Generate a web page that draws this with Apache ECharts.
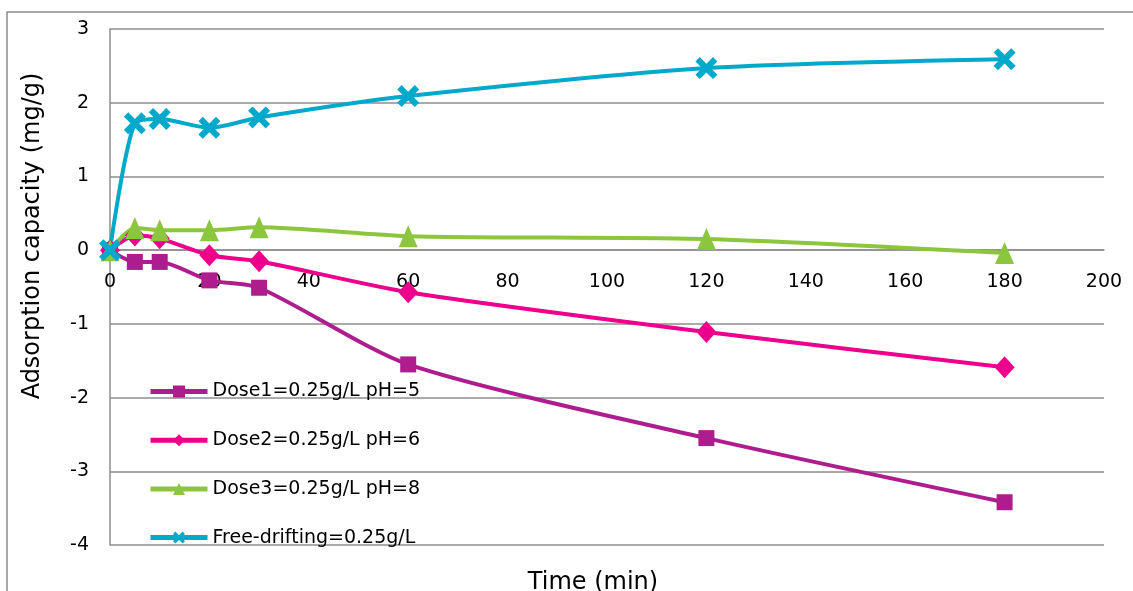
<!DOCTYPE html>
<html>
<head>
<meta charset="utf-8">
<script src="https://cdn.jsdelivr.net/npm/echarts@6/dist/echarts.min.js"></script>
<style>
html,body{margin:0;padding:0;background:#fff;}
#chart{width:1133px;height:591px;}
</style>
</head>
<body>
<div id="chart"></div>
<script>
const times = [0, 5, 10, 20, 30, 60, 120, 180];
const dose1 = [0, -0.16, -0.16, -0.41, -0.51, -1.55, -2.55, -3.42];
const dose2 = [0, 0.20, 0.16, -0.07, -0.15, -0.57, -1.11, -1.59];
const dose3 = [0, 0.30, 0.27, 0.27, 0.31, 0.19, 0.15, -0.04];
const freeDrift = [0, 1.72, 1.78, 1.66, 1.80, 2.09, 2.47, 2.59];
const seriesNames = ['Dose1=0.25g/L pH=5', 'Dose2=0.25g/L pH=6', 'Dose3=0.25g/L pH=8', 'Free-drifting=0.25g/L'];
const xTitle = 'Time (min)';
const yTitle = 'Adsorption capacity (mg/g)';

const FONT = 'DejaVu Sans, Verdana, sans-serif';
const GRID_C = '#8e8e8e';
const X_SYMBOL = 'path://M0,2 L2,0 L5,3 L8,0 L10,2 L7,5 L10,8 L8,10 L5,7 L2,10 L0,8 L3,5 Z';

function pairs(vals){ return times.map((t,i)=>[t, vals[i]]); }

function mk(name, vals, color, symbol, size){
  return {
    name: name, type: 'line', data: pairs(vals),
    smooth: 0.25,
    symbol: symbol, symbolSize: size,
    showAllSymbol: true,
    lineStyle: {color: color, width: 4},
    itemStyle: {color: color, borderWidth: 0},
    emphasis: {disabled: true}
  };
}

const chart = echarts.init(document.getElementById('chart'), null, {renderer: 'canvas'});
chart.setOption({
  animation: false,
  backgroundColor: '#fff',
  grid: {left: 110, right: 29, top: 29, bottom: 46, containLabel: false},
  xAxis: {
    type: 'value', min: 0, max: 200, interval: 20,
    offset: -295,
    axisLine: {show: true, onZero: false, lineStyle: {color: GRID_C, width: 1.5}},
    axisTick: {show: false},
    splitLine: {show: false},
    axisLabel: {color: '#000', fontFamily: FONT, fontSize: 19, margin: 23}
  },
  yAxis: {
    type: 'value', min: -4, max: 3, interval: 1,
    axisLine: {show: true, lineStyle: {color: GRID_C, width: 1.5}},
    axisTick: {show: false},
    splitLine: {show: true, lineStyle: {color: GRID_C, width: 1.5}},
    axisLabel: {color: '#000', fontFamily: FONT, fontSize: 19, margin: 21}
  },
  legend: {
    orient: 'vertical', left: 143, top: 377,
    itemWidth: 57, itemHeight: 15, itemGap: 29.7,
    lineStyle: {width: 5},
    textStyle: {color: '#000', fontFamily: FONT, fontSize: 19},
    data: seriesNames
  },
  graphic: [
    {type: 'rect', shape: {x: 7, y: 12, width: 1300, height: 800}, style: {fill: 'none', stroke: '#8a8a8a', lineWidth: 1.5}, silent: true, z: -1},
    {type: 'text', x: 33, y: 236, rotation: Math.PI/2, style: {text: yTitle, fontFamily: FONT, fontSize: 24, fill: '#000', textAlign: 'center', textVerticalAlign: 'middle'}},
    {type: 'text', x: 593, y: 583, style: {text: xTitle, fontFamily: FONT, fontSize: 24, fill: '#000', textAlign: 'center', textVerticalAlign: 'middle'}}
  ],
  series: [
    mk(seriesNames[0], dose1, '#AE1D8E', 'rect', 16),
    mk(seriesNames[1], dose2, '#EC008C', 'diamond', [20, 22]),
    mk(seriesNames[2], dose3, '#8CC63F', 'triangle', [19, 22]),
    mk(seriesNames[3], freeDrift, '#03A9CA', X_SYMBOL, 22)
  ]
});
</script>
</body>
</html>
